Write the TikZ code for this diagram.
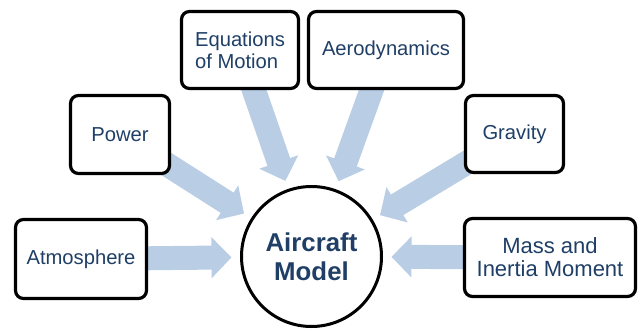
\documentclass[tikz,border=0pt]{standalone}
\usepackage{fontspec}
\setmainfont{Liberation Sans}
\usetikzlibrary{arrows.meta,calc,backgrounds}
\definecolor{txtblue}{HTML}{1F3F66}
\definecolor{flowblue}{HTML}{B9CDE5}
\tikzset{
	block/.style={draw, line width=3.2pt, rounded corners=8pt, fill=white, text=txtblue,
		font=\fontsize{20.2}{22}\selectfont, align=center, inner sep=0pt},
	hub/.style={circle, draw, line width=3pt, fill=white, text=txtblue,
		font=\fontsize{25.8}{29}\selectfont\bfseries, align=center, inner sep=0pt,
		minimum size=140pt},
	flow/.style={draw=flowblue, line width=24pt, -{Triangle[width=40pt,length=20pt]}}
}
\begin{document}
\begin{tikzpicture}[x=1pt,y=-1pt]
	\useasboundingbox (0,0) rectangle (641,330);

	% Model
	\node[hub] (model) at (311.5,256.5) {Aircraft\\Model};

	% Inputs
	\node[block, minimum width=117pt, minimum height=77pt, align=left] (eom) at (240,50) {Equations\\of Motion};
	\node[block, minimum width=155pt, minimum height=77pt] (aero) at (386,50) {Aerodynamics};
	\node[block, minimum width=99pt, minimum height=78pt] (power) at (120,134.5) {Power};
	\node[block, minimum width=98pt, minimum height=77pt] (grav) at (514.5,134) {Gravity};
	\node[block, minimum width=131pt, minimum height=79pt] (atmo) at (81,259) {Atmosphere};
	\node[block, minimum width=171pt, minimum height=78pt, font=\fontsize{22}{23}\selectfont] (mass) at (550,257.5) {Mass and\\Inertia Moment};

	% Arrows
	\begin{scope}[on background layer]
		\foreach \src in {eom,aero,power,grav,atmo,mass}
			\draw[flow] (\src.center) -- ($(model.center)!80pt!(\src.center)$);
	\end{scope}
\end{tikzpicture}
\end{document}
